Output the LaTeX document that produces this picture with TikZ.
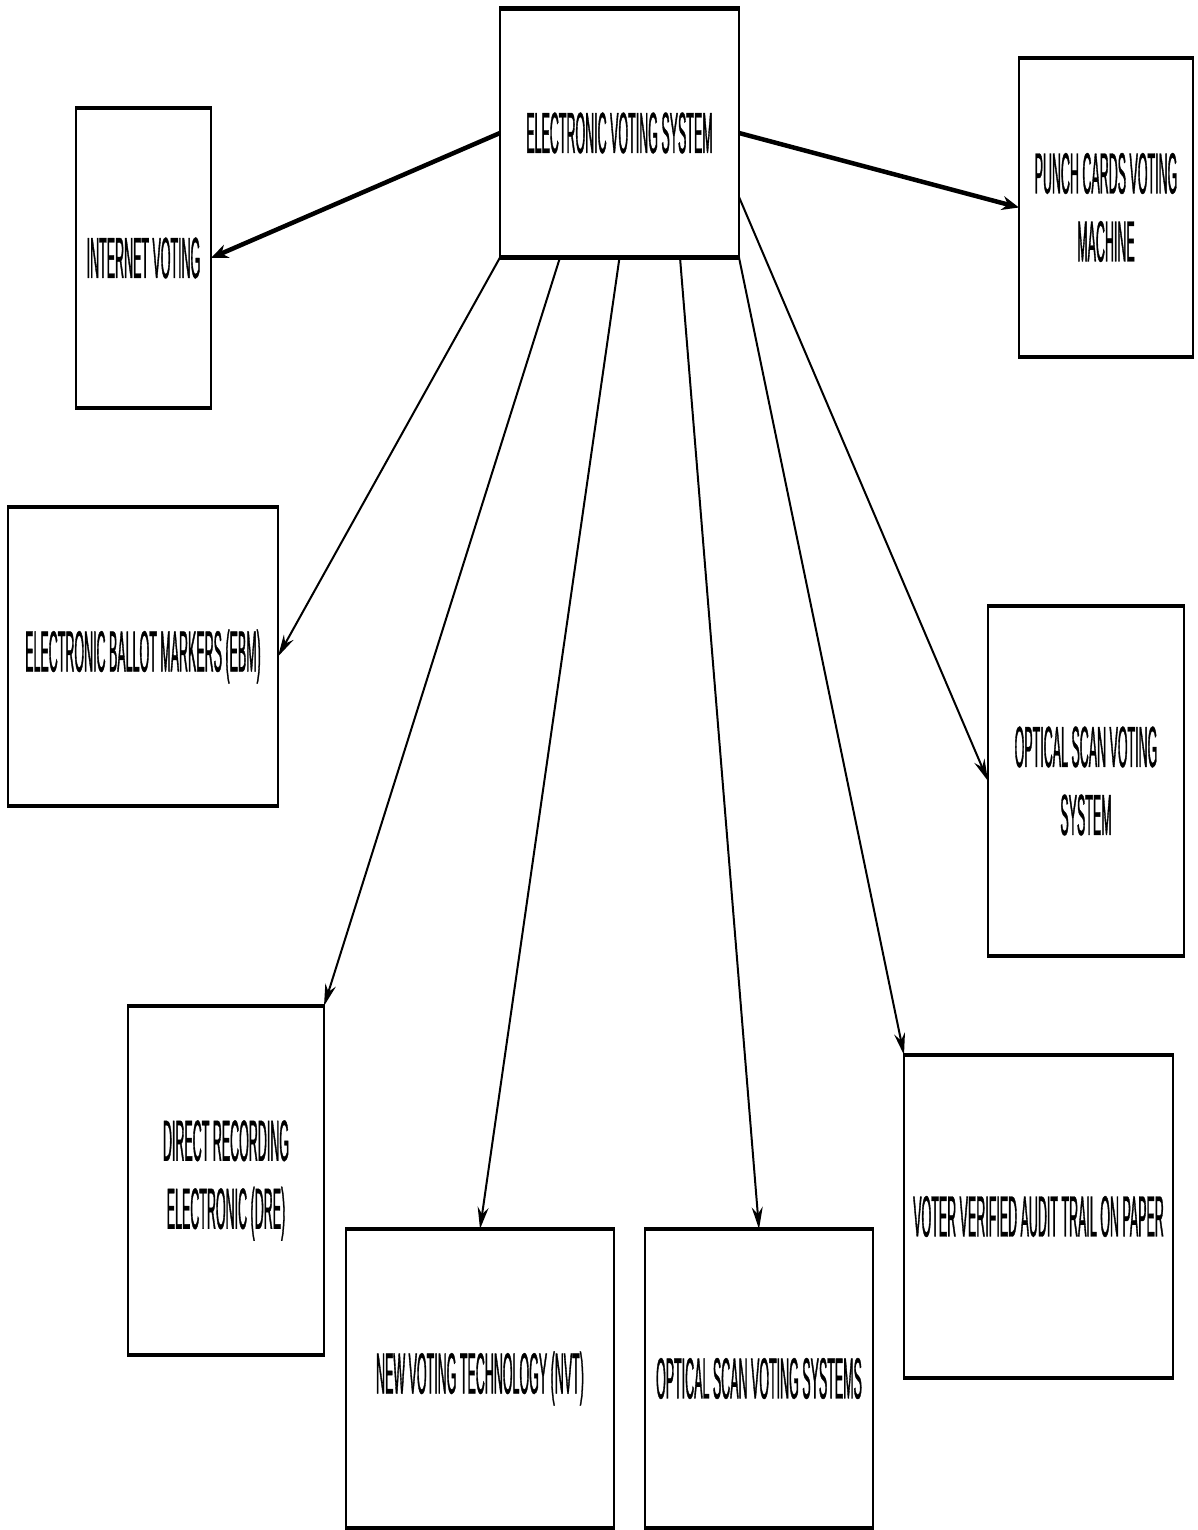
\documentclass[tikz,border=0pt]{standalone}
\usepackage{fontspec}
\usetikzlibrary{arrows.meta}
% tall, very narrow sans used for all box labels
\newfontfamily\narrowsans[FakeStretch=0.215, FakeBold=0.6]{Liberation Sans}

\tikzset{
  box/.style={rectangle, draw=none, inner sep=0pt, outer sep=0pt, align=center,
    font=\narrowsans\fontsize{58}{68}\selectfont},
  sideedge/.style={line width=1.6pt, black},
  capedge/.style={line width=4.5pt, black},
  heavylink/.style={line width=4.5pt, -{Stealth[length=17pt, width=14pt]}},
  lightlink/.style={line width=2pt, -{Stealth[length=22pt, width=11pt]}},
}

\begin{document}
\begin{tikzpicture}[x=1pt, y=-1pt]
  \useasboundingbox (0,0) rectangle (1197,1530);

  % boxes: centre, width, height in page units
  \node[box, minimum width=239pt, minimum height=249pt] (evs)   at (619.5,133)  {ELECTRONIC VOTING SYSTEM};
  \node[box, minimum width=135pt, minimum height=300pt] (inet)  at (143.5,258)  {INTERNET VOTING};
  \node[box, minimum width=174pt, minimum height=299pt] (punch) at (1106,207.5) {PUNCH CARDS VOTING\\MACHINE};
  \node[box, minimum width=270pt, minimum height=299pt] (ebm)   at (143,656.5)  {ELECTRONIC BALLOT MARKERS (EBM)};
  \node[box, minimum width=196pt, minimum height=350pt] (osv)   at (1086,781)   {OPTICAL SCAN VOTING\\SYSTEM};
  \node[box, minimum width=196pt, minimum height=349pt] (dre)   at (226,1180.5) {DIRECT RECORDING\\ELECTRONIC (DRE)};
  \node[box, minimum width=268pt, minimum height=299pt] (nvt)   at (480,1378.5) {NEW VOTING TECHNOLOGY (NVT)};
  \node[box, minimum width=228pt, minimum height=299pt] (osvs)  at (759,1378.5) {OPTICAL SCAN VOTING SYSTEMS};
  \node[box, minimum width=269pt, minimum height=323pt] (vvat)  at (1038.5,1216.5) {VOTER VERIFIED AUDIT TRAIL ON PAPER};

  % box outlines: thin sides, heavy top and bottom
  \foreach \n in {evs,inet,punch,ebm,osv,dre,nvt,osvs,vvat} {
    \draw[sideedge] (\n.north west) -- (\n.south west);
    \draw[sideedge] (\n.north east) -- (\n.south east);
    \draw[capedge] ([xshift=-0.8pt]\n.north west) -- ([xshift=0.8pt]\n.north east);
    \draw[capedge] ([xshift=-0.8pt]\n.south west) -- ([xshift=0.8pt]\n.south east);
  }

  % connectors from the central system
  \draw[heavylink] (evs.west) -- (inet.east);
  \draw[heavylink] (evs.east) -- (punch.west);
  \draw[lightlink] (evs.south west) -- (ebm.east);
  \draw[lightlink] ([xshift=60pt]evs.south west) -- (dre.north east);
  \draw[lightlink] (evs.south) -- (nvt.north);
  \draw[lightlink] ([xshift=-59pt]evs.south east) -- (osvs.north);
  \draw[lightlink] (evs.south east) -- (vvat.north west);
  \draw[lightlink] ([yshift=-64pt]evs.east) -- (osv.west);
\end{tikzpicture}
\end{document}
